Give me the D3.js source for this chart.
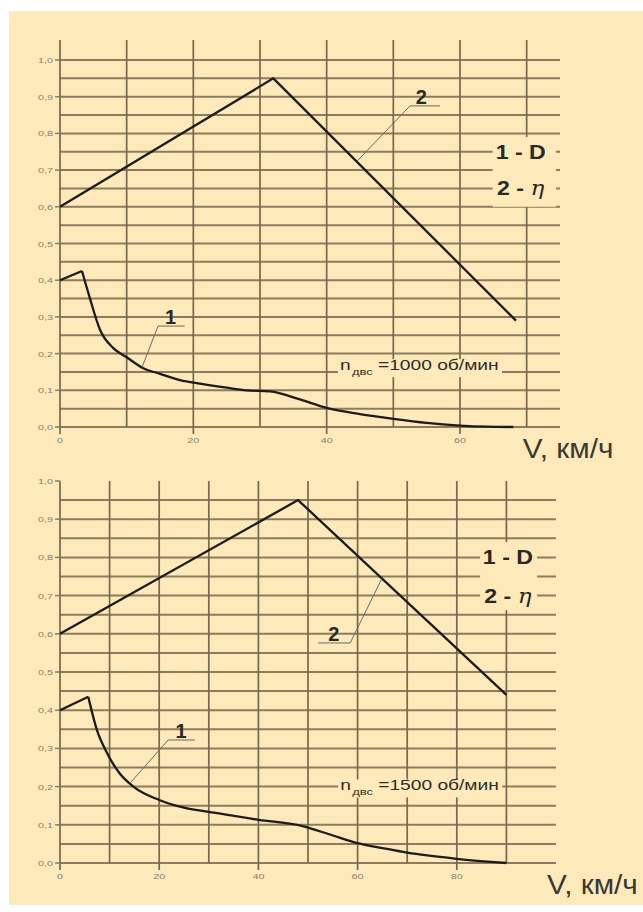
<!DOCTYPE html>
<html>
<head>
<meta charset="utf-8">
<script src="https://cdn.jsdelivr.net/npm/d3@7"></script>
<style>
  body { margin: 0; background: #fff; }
  svg { display: block; font-family: 'Liberation Sans', Arial, sans-serif; }
</style>
</head>
<body>
<script>
// n = 1000 rpm (top chart)
const speedTopD = [0, 3.3, 4.5, 6, 8, 10, 12.5, 15, 18, 21, 25, 28, 31.5, 36, 40, 45, 50, 55, 60, 64, 68];
const dTop = [0.40, 0.425, 0.35, 0.265, 0.215, 0.19, 0.16, 0.145, 0.128, 0.118, 0.107, 0.100, 0.097, 0.075, 0.052, 0.035, 0.022, 0.011, 0.004, 0.001, 0.0];
const speedTopEta = [0, 32, 68.4];
const etaTop = [0.60, 0.95, 0.29];

// n = 1500 rpm (bottom chart)
const speedBotD = [0, 5.7, 7.4, 9.4, 12, 14.8, 20, 25, 30, 40, 48.5, 55, 60, 65, 70, 80, 90];
const dBot = [0.40, 0.435, 0.35, 0.29, 0.235, 0.20, 0.165, 0.145, 0.134, 0.113, 0.098, 0.072, 0.052, 0.039, 0.027, 0.011, 0.0];
const speedBotEta = [0, 48, 90];
const etaBot = [0.60, 0.95, 0.44];

const yTickLabels = ['0,0', '0,1', '0,2', '0,3', '0,4', '0,5', '0,6', '0,7', '0,8', '0,9', '1,0'];
const xTicksTop = [0, 20, 40, 60];
const xTicksBot = [0, 20, 40, 60, 80];

const width = 643, height = 912;
const bg = '#fde9b9';
const gridColor = '#8a7c5d';

const svg = d3.select('body').append('svg')
  .attr('width', width)
  .attr('height', height)
  .attr('viewBox', [0, 0, width, height]);

svg.append('rect')
  .attr('x', 9).attr('y', 11)
  .attr('width', width - 9).attr('height', 894)
  .attr('fill', bg);

// text is horizontally stretched in the source picture
const addText = (parent, x, y, str, {size = 12, weight = 'normal', anchor = 'start', fill = '#222', sx = 1} = {}) => {
  const t = parent.append('g')
    .attr('transform', `translate(${x},${y}) scale(${sx},1)`)
    .append('text')
    .attr('font-size', size)
    .attr('font-weight', weight)
    .attr('text-anchor', anchor)
    .attr('fill', fill);
  if (str !== null) t.text(str);
  return t;
};

const panels = [{
  speedD: speedTopD, d: dTop, speedEta: speedTopEta, eta: etaTop,
  xDomain: [0, 75], xRange: [60, 560], yRange: [427, 60],
  vTop: 40, vMax: 70, hMax: 20, xTicks: xTicksTop,
  labels: [
    {text: '1', series: 'd', at: 12.3, ul: [14.7, 18.7], uy: 0.275, attach: 14.7, lx: 16.6},
    {text: '2', series: 'eta', at: 44.5, ul: [52.5, 57], uy: 0.875, attach: 52.5, lx: 54.2}
  ],
  legend: {v: [64.9, 74.4], y: [0.79, 0.60], cx: 69.1, rows: [0.75, 0.65]},
  note: {v: 42, base: 0.155, rpm: '1000'},
  vLabel: 69.4
}, {
  speedD: speedBotD, d: dBot, speedEta: speedBotEta, eta: etaBot,
  xDomain: [0, 100], xRange: [60, 556], yRange: [863, 481],
  vTop: 481, vMax: 90, hMax: 19, xTicks: xTicksBot,
  labels: [
    {text: '1', series: 'd', at: 14.1, ul: [21.8, 27.2], uy: 0.322, attach: 21.8, lx: 24.4},
    {text: '2', series: 'eta', at: 64.9, ul: [52, 58.5], uy: 0.576, attach: 58.5, lx: 55.2}
  ],
  legend: {v: [84.7, 96.2], y: [0.84, 0.662], cx: 90.3, rows: [0.8, 0.7]},
  note: {v: 56.5, base: 0.19, rpm: '1500'},
  vLabel: 98.2
}];

function drawPanel(p) {
  const x = d3.scaleLinear().domain(p.xDomain).range(p.xRange);
  const y = d3.scaleLinear().domain([0, 1]).range(p.yRange);
  const g = svg.append('g');

  // horizontal grid every 0.05
  g.append('g')
    .selectAll('line')
    .data(d3.range(0, p.hMax + 1).map(i => i / 20))
    .join('line')
    .attr('x1', x(0))
    .attr('x2', x(p.xDomain[1]))
    .attr('y1', d => y(d))
    .attr('y2', d => y(d))
    .attr('stroke', gridColor)
    .attr('stroke-width', 2);

  // vertical grid every 10 km/h
  g.append('g')
    .selectAll('line')
    .data(d3.range(0, p.vMax / 10 + 1).map(i => i * 10))
    .join('line')
    .attr('x1', d => x(d))
    .attr('x2', d => x(d))
    .attr('y1', p.vTop)
    .attr('y2', d => p.xTicks.includes(d) ? y(0) + 7 : y(0))
    .attr('stroke', '#75694e')
    .attr('stroke-width', 1.7);

  // y ticks and labels
  const yt = g.append('g');
  yTickLabels.forEach((lab, i) => {
    yt.append('line')
      .attr('x1', x(0) - 5).attr('x2', x(0))
      .attr('y1', y(i / 10)).attr('y2', y(i / 10))
      .attr('stroke', gridColor).attr('stroke-width', 1.5);
    addText(yt, x(0) - 7, y(i / 10) + 3, lab, {size: 8, anchor: 'end', fill: '#858075', sx: 1.35});
  });
  p.xTicks.forEach(v => {
    addText(yt, x(v), y(0) + 16, v, {size: 8, anchor: 'middle', fill: '#858075', sx: 1.35});
  });

  // curves
  const line = d3.line().x(d => x(d[0])).y(d => y(d[1]));
  const ptsD = p.speedD.map((v, i) => [v, p.d[i]]);
  const ptsEta = p.speedEta.map((v, i) => [v, p.eta[i]]);
  const curveStyle = sel => sel.attr('fill', 'none').attr('stroke', '#1d1b18')
    .attr('stroke-width', 2.3).attr('stroke-linejoin', 'round');
  g.append('path').attr('d', line.curve(d3.curveLinear)(ptsD.slice(0, 2))).call(curveStyle);
  g.append('path').attr('d', line.curve(d3.curveMonotoneX)(ptsD.slice(1))).call(curveStyle);
  g.append('path').attr('d', line.curve(d3.curveLinear)(ptsEta)).call(curveStyle);

  // curve numbers with leaders
  const valueAt = {
    d: d3.scaleLinear().domain(p.speedD).range(p.d),
    eta: d3.scaleLinear().domain(p.speedEta).range(p.eta)
  };
  p.labels.forEach(l => {
    g.append('line')
      .attr('x1', x(l.ul[0])).attr('x2', x(l.ul[1]))
      .attr('y1', y(l.uy)).attr('y2', y(l.uy))
      .attr('stroke', '#6d6a62').attr('stroke-width', 1);
    g.append('line')
      .attr('x1', x(l.attach)).attr('y1', y(l.uy))
      .attr('x2', x(l.at)).attr('y2', y(valueAt[l.series](l.at)))
      .attr('stroke', '#6d6a62').attr('stroke-width', 1);
    addText(g, x(l.lx), y(l.uy) - 2, l.text, {size: 20, weight: 'bold', anchor: 'middle', fill: '#2a2825'});
  });

  // legend
  const lg = p.legend;
  g.append('rect')
    .attr('x', x(lg.v[0])).attr('y', y(lg.y[0]))
    .attr('width', x(lg.v[1]) - x(lg.v[0]))
    .attr('height', y(lg.y[1]) - y(lg.y[0]))
    .attr('fill', bg);
  addText(g, x(lg.cx), y(lg.rows[0]) + 7, '1 - D', {size: 21, weight: 'bold', anchor: 'middle', fill: '#2a2825', sx: 1.1});
  const eta = addText(g, x(lg.cx), y(lg.rows[1]) + 7, null, {size: 21, weight: 'bold', anchor: 'middle', fill: '#2a2825', sx: 1.1});
  eta.append('tspan').text('2 - ');
  eta.append('tspan').attr('font-style', 'italic').attr('font-weight', 'normal')
    .attr('font-family', "'DejaVu Serif', serif").text('η');

  // engine speed note
  const nx = x(p.note.v), ny = y(p.note.base);
  g.append('rect')
    .attr('x', nx - 2).attr('y', ny - 11)
    .attr('width', 164).attr('height', 18)
    .attr('fill', bg);
  addText(g, nx, ny, 'n', {size: 14, fill: '#2d2b27', sx: 1.37});
  addText(g, nx + 12, ny + 5, 'двс', {size: 9, fill: '#2d2b27', sx: 1.45});
  addText(g, nx + 38, ny, `=${p.note.rpm} об/мин`, {size: 14, fill: '#2d2b27', sx: 1.37});

  // axis title
  addText(g, x(p.vLabel), y(0) + 31, 'V, км/ч', {size: 27, fill: '#3a3834', sx: 1.1});
}

panels.forEach(drawPanel);
</script>
</body>
</html>
